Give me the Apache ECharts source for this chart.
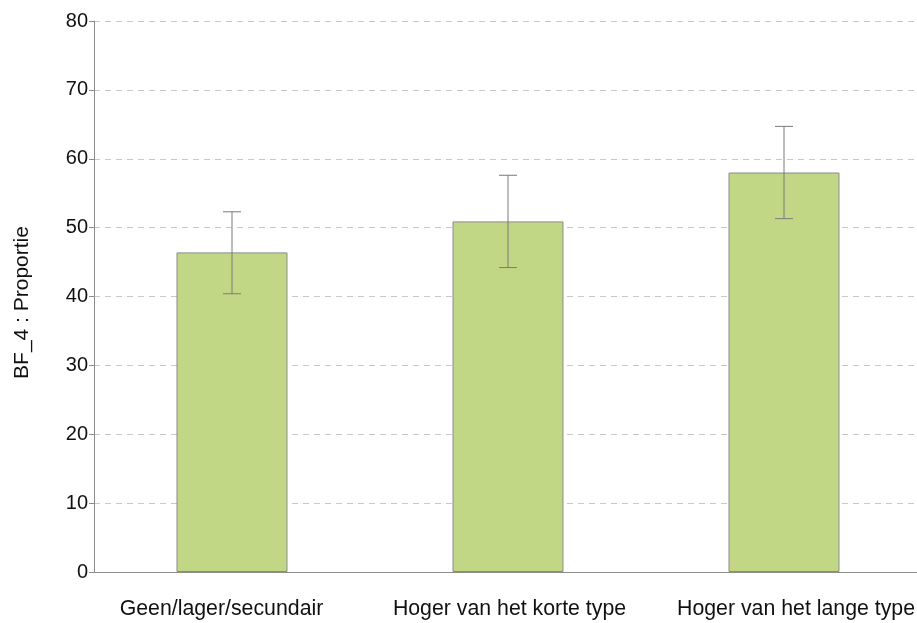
<!DOCTYPE html>
<html>
<head>
<meta charset="utf-8">
<script src="https://cdn.jsdelivr.net/npm/echarts@6/dist/echarts.min.js"></script>
<style>
  html, body { margin: 0; padding: 0; background: #fff; overflow: hidden; }
  #wrap { width: 917px; height: 623px; overflow: hidden; }
  #chart { width: 923px; height: 623px; }
</style>
</head>
<body>
<div id="wrap"><div id="chart"></div></div>
<script>
// Education levels and the proportion (%) answering BF_4, with confidence bounds
const categories = ['Geen/lager/secundair', 'Hoger van het korte type', 'Hoger van het lange type'];
const proportions = [46.4, 50.9, 58.0];
const lowerBounds = [40.4, 44.2, 51.3];
const upperBounds = [52.3, 57.6, 64.7];
const yTicks = [0, 10, 20, 30, 40, 50, 60, 70, 80];

const chart = echarts.init(document.getElementById('chart'));

const errorData = categories.map((c, i) => [i, lowerBounds[i], upperBounds[i]]);
const labelFont = { color: '#111', fontFamily: 'Liberation Sans', fontSize: 21.3 };

chart.setOption({
  animation: false,
  grid: { left: 94, right: 1, top: 21, bottom: 51 },
  xAxis: {
    type: 'category',
    data: categories,
    axisLine: { lineStyle: { color: '#8c8c8c', width: 1 } },
    axisTick: { show: false },
    axisLabel: {
      interval: 0,
      margin: 27,
      formatter: function (value, index) { return '{c' + index + '|' + value + '}'; },
      rich: {
        c0: Object.assign({ padding: [0, 21, 0, 0] }, labelFont),
        c1: Object.assign({ padding: [0, 0, 0, 3] }, labelFont),
        c2: Object.assign({ padding: [0, 0, 0, 24] }, labelFont)
      }
    }
  },
  yAxis: {
    type: 'value',
    min: yTicks[0],
    max: yTicks[yTicks.length - 1],
    interval: 10,
    name: 'BF_4 : Proportie',
    nameLocation: 'middle',
    nameGap: 61,
    nameTextStyle: { color: '#111', fontFamily: 'Liberation Sans', fontSize: 21, padding: [0, 12, 0, 0] },
    axisLine: { show: true, lineStyle: { color: '#8c8c8c', width: 1 } },
    axisTick: { show: true, length: 5, lineStyle: { color: '#8c8c8c' } },
    axisLabel: { color: '#111', fontFamily: 'Liberation Sans', fontSize: 20, margin: 6 },
    splitLine: { show: true, lineStyle: { color: '#c8c8c8', type: [6, 5], width: 1 } }
  },
  series: [
    {
      type: 'bar',
      data: proportions,
      barWidth: '40.2%',
      itemStyle: { color: '#c2d786', borderColor: '#8a8a8a', borderWidth: 1 }
    },
    {
      type: 'custom',
      data: errorData,
      z: 10,
      renderItem: function (params, api) {
        const x = api.value(0);
        const lo = api.coord([x, api.value(1)]);
        const hi = api.coord([x, api.value(2)]);
        const half = 9;
        const style = { stroke: '#7a7a7a', lineWidth: 1 };
        return {
          type: 'group',
          children: [
            { type: 'line', shape: { x1: lo[0], y1: lo[1], x2: hi[0], y2: hi[1] }, style: style },
            { type: 'line', shape: { x1: lo[0] - half, y1: lo[1], x2: lo[0] + half, y2: lo[1] }, style: style },
            { type: 'line', shape: { x1: hi[0] - half, y1: hi[1], x2: hi[0] + half, y2: hi[1] }, style: style }
          ]
        };
      }
    }
  ]
});
</script>
</body>
</html>
